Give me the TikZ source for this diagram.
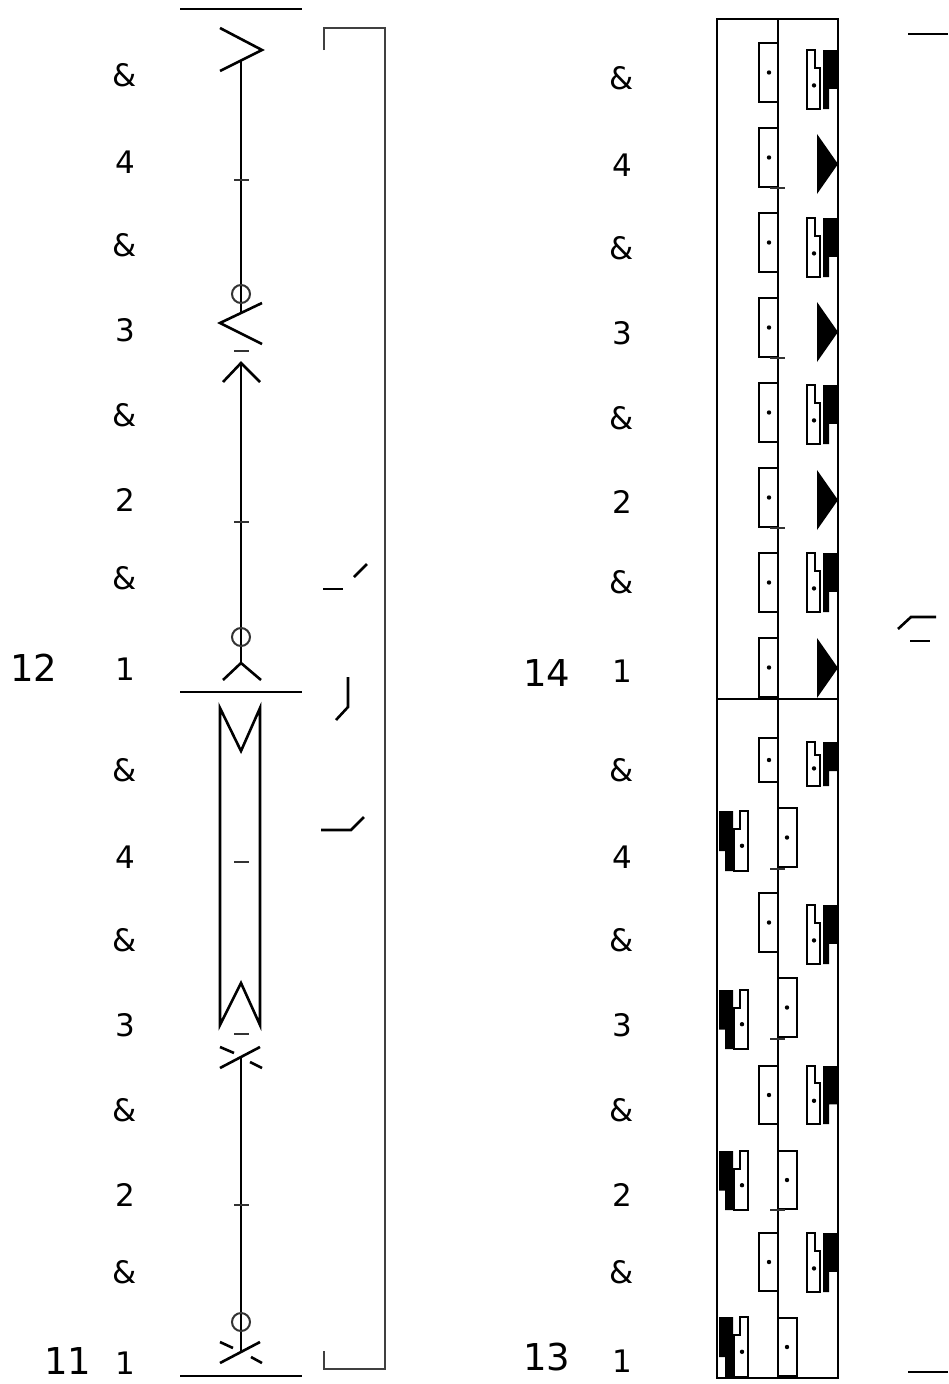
\documentclass[tikz,border=0pt]{standalone}
\usepackage{fontspec}
\setmainfont{DejaVu Sans}

\begin{document}
\begin{tikzpicture}[x=1pt,y=-1pt,
        beat/.style={anchor=base,inner sep=0pt,font=\fontsize{31}{36}\selectfont},
        barnum/.style={anchor=base,inner sep=0pt,font=\fontsize{37}{44}\selectfont},
        staff/.style={line width=2pt},
        sym/.style={line width=2.6pt,line join=miter},
        tick/.style={line width=2pt,black!80},
        box/.style={line width=2.2pt,fill=white},
        bracket/.style={line width=2.4pt,black!75}]
        \useasboundingbox (0,0) rectangle (948,1384);

        % beats, left staff
        \foreach \y/\b [count=\i] in {86/\&,173/4,256/\&,341/3,426/\&,511/2,589/\&,680/1,
                781/\&,868/4,951/\&,1036/3,1121/\&,1206/2,1283/\&,1374/1}
            \node[beat] (L\i) at (125,\y) {\b};
        % beats, right staff
        \foreach \y/\b [count=\i] in {89/\&,176/4,259/\&,344/3,429/\&,513/2,593/\&,682/1,
                781/\&,868/4,951/\&,1036/3,1121/\&,1206/2,1283/\&,1372/1}
            \node[beat] (R\i) at (622,\y) {\b};

        \node[barnum] (M12) at (34,681) {12};
        \node[barnum] (M11) at (68,1374) {11};
        \node[barnum] (M14) at (547,686) {14};
        \node[barnum] (M13) at (547,1370) {13};

        % left staff
        \draw[staff] (180,9) -- (302,9);
        \draw[staff] (180,692) -- (302,692);
        \draw[staff] (180,1376) -- (302,1376);
        \draw[sym] (234,9) -- (249,9);
        \draw[sym] (234,692) -- (249,692);

        % bar 12
        \draw[sym] (220,28) -- (262,50) -- (220,71);
        \draw[staff] (241,60) -- (241,313);
        \draw[tick] (234,180) -- (249,180);
        \draw[tick] (241,294) circle (9pt);
        \draw[sym] (262,303) -- (220,323) -- (262,344);
        \draw[tick] (234,351) -- (249,351);
        \draw[sym] (223,382) -- (241,363) -- (260,382);
        \draw[staff] (241,363) -- (241,663);
        \draw[tick] (234,522) -- (249,522);
        \draw[tick] (241,637) circle (9pt);
        \draw[sym] (223,680) -- (241,663) -- (261,680);

        % bar 11
        \draw[sym] (220,708) -- (220,1025) -- (241,983) -- (260,1025) -- (260,708) -- (241,751) -- cycle;
        \draw[tick] (234,862) -- (249,862);
        \draw[tick] (234,1034) -- (249,1034);
        \draw[sym] (220,1068) -- (260,1047);
        \draw[sym] (220,1047) -- (234,1053);
        \draw[sym] (250,1062) -- (262,1068);
        \draw[staff] (241,1058) -- (241,1352);
        \draw[tick] (234,1205) -- (249,1205);
        \draw[tick] (241,1322) circle (9pt);
        \draw[sym] (220,1363) -- (260,1342);
        \draw[sym] (220,1342) -- (233,1348);
        \draw[sym] (251,1357) -- (262,1363);

        % bracket and marks
        \draw[bracket] (324,50) -- (324,28) -- (385,28) -- (385,1369) -- (324,1369) -- (324,1351);
        \draw[sym] (323,589) -- (343,589);
        \draw[sym] (354,577) -- (367,564);
        \draw[sym] (348,677) -- (348,707) -- (336,720);
        \draw[sym] (321,830) -- (351,830) -- (364,817);

        % right staff
        \draw[staff] (717,19) rectangle (838,1378);
        \draw[staff] (778,19) -- (778,1378);
        \draw[staff] (717,699) -- (838,699);
        \draw[sym] (908,34) -- (948,34);
        \draw[sym] (908,1372) -- (948,1372);
        \draw[sym] (898,629) -- (911,617) -- (936,617);
        \draw[sym] (910,641) -- (930,641);

        % open boxes left of centre
        \foreach \t/\h in {43/59,128/59,213/59,298/59,383/59,468/59,553/59,638/59,738/44,893/59,1066/58,1233/58} {
            \draw[box] (759,\t) rectangle (778,\t+\h);
            \fill (769,\t+0.5*\h) circle (2.2pt);
        }
        % open boxes right of centre
        \foreach \t/\h in {808/59,978/59,1151/58,1318/58} {
            \draw[box] (778,\t) rectangle (797,\t+\h);
            \fill (787,\t+0.5*\h) circle (2.2pt);
        }
        % hold lines
        \foreach \b in {188,358,528,869,1039,1210}
            \draw[tick] (770,\b) -- (785,\b);

        % right column, notched shapes
        \foreach \t/\h in {50/59,218/59,385/59,553/59,742/44,905/59,1066/58,1233/59} {
            \draw[line width=2pt] (807,\t) -- (815,\t) -- (815,\t+0.3*\h) -- (820,\t+0.3*\h)
                -- (820,\t+\h) -- (807,\t+\h) -- cycle;
            \fill (814,\t+0.6*\h) circle (2.2pt);
            \fill (823,\t) -- (838,\t) -- (838,\t+0.66*\h) -- (829,\t+0.66*\h) -- (829,\t+\h)
                -- (823,\t+\h) -- cycle;
        }
        % right column, triangles
        \foreach \t in {134,302,470,638}
            \fill (817,\t) -- (838,\t+30) -- (817,\t+60) -- cycle;

        % left column, notched shapes (mirrored)
        \foreach \t/\h in {811/60,990/59,1151/59,1317/60} {
            \fill (719,\t) -- (733,\t) -- (733,\t+\h) -- (725,\t+\h) -- (725,\t+0.67*\h)
                -- (719,\t+0.67*\h) -- cycle;
            \draw[line width=2pt] (740,\t) -- (748,\t) -- (748,\t+\h) -- (734,\t+\h)
                -- (734,\t+0.3*\h) -- (740,\t+0.3*\h) -- cycle;
            \fill (742,\t+0.58*\h) circle (2.2pt);
        }
\end{tikzpicture}
\end{document}
